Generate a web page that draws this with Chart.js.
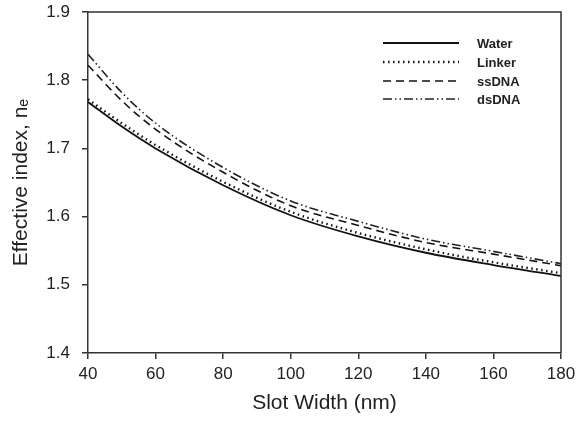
<!DOCTYPE html>
<html>
<head>
<meta charset="utf-8">
<script src="https://cdn.jsdelivr.net/npm/chart.js@4/dist/chart.umd.min.js"></script>
<style>
  html, body { margin: 0; padding: 0; background: #fff; }
  #wrap { width: 582px; height: 424px; }
</style>
</head>
<body>
<div id="wrap"><canvas id="c" width="582" height="424"></canvas></div>
<script>
const slotWidth = [40, 50, 60, 80, 100, 120, 140, 160, 180];
const water  = [1.768, 1.732, 1.700, 1.646, 1.602, 1.571, 1.547, 1.529, 1.513];
const linker = [1.772, 1.737, 1.705, 1.651, 1.607, 1.576, 1.552, 1.533, 1.517];
const ssDNA  = [1.822, 1.770, 1.728, 1.665, 1.616, 1.587, 1.562, 1.545, 1.528];
const dsDNA  = [1.838, 1.782, 1.737, 1.672, 1.623, 1.593, 1.567, 1.549, 1.531];
const seriesNames = ['Water', 'Linker', 'ssDNA', 'dsDNA'];
const xTicks = [40, 60, 80, 100, 120, 140, 160, 180];
const yTicks = [1.4, 1.5, 1.6, 1.7, 1.8, 1.9];

const toPts = (arr) => arr.map((v, i) => ({x: slotWidth[i], y: v}));
const styles = [
  {borderColor: '#111', borderWidth: 1.8, borderDash: []},
  {borderColor: '#111', borderWidth: 2.4, borderDash: [1.5, 3.5]},
  {borderColor: '#111', borderWidth: 1.6, borderDash: [8, 5]},
  {borderColor: '#222', borderWidth: 1.6, borderDash: [9, 3, 1.5, 3, 1.5, 3]}
];
const allSeries = [water, linker, ssDNA, dsDNA];

const frame = {
  id: 'frame',
  afterDraw(chart) {
    const {ctx, chartArea: a} = chart;
    ctx.save();
    ctx.strokeStyle = '#333';
    ctx.lineWidth = 1.5;
    ctx.beginPath();
    ctx.moveTo(a.left, a.top); ctx.lineTo(a.right, a.top); ctx.lineTo(a.right, a.bottom);
    ctx.stroke();
    // legend
    const x0 = 383, x1 = 459, tx = 477, ys = [43, 62, 81, 99];
    chart.data.datasets.forEach((ds, i) => {
      ctx.strokeStyle = ds.borderColor;
      ctx.lineWidth = ds.borderWidth;
      ctx.setLineDash(ds.borderDash);
      ctx.beginPath();
      ctx.moveTo(x0, ys[i]); ctx.lineTo(x1, ys[i]);
      ctx.stroke();
      ctx.setLineDash([]);
      ctx.fillStyle = '#222';
      ctx.font = 'bold 13px "Liberation Sans", Arial, sans-serif';
      ctx.textBaseline = 'middle';
      ctx.textAlign = 'left';
      ctx.fillText(ds.label, tx, ys[i] + 1);
    });
    ctx.restore();
  }
};

new Chart(document.getElementById('c'), {
  type: 'line',
  data: {
    datasets: allSeries.map((s, i) => Object.assign({
      label: seriesNames[i],
      data: toPts(s),
      pointRadius: 0,
      fill: false,
      cubicInterpolationMode: 'monotone'
    }, styles[i]))
  },
  options: {
    responsive: false,
    animation: false,
    devicePixelRatio: 1,
    layout: {padding: {left: 0, right: 21, top: 12, bottom: 0}},
    plugins: {legend: {display: false}, tooltip: {enabled: false}},
    scales: {
      x: {
        type: 'linear', min: 40, max: 180,
        afterBuildTicks: (s) => { s.ticks = xTicks.map(v => ({value: v})); },
        afterFit: (s) => { s.height = 71; s.paddingLeft = 0; s.paddingRight = 0; },
        border: {display: true, color: '#333', width: 1.5},
        grid: {display: true, drawOnChartArea: false, drawTicks: true, tickLength: 6, color: '#333', lineWidth: 1.5},
        ticks: {color: '#222', padding: 5, font: {family: '"Liberation Sans", Arial, sans-serif', size: 17}, maxRotation: 0},
        title: {display: true, text: 'Slot Width (nm)', color: '#222', padding: {top: 8, bottom: 8}, font: {family: '"Liberation Sans", Arial, sans-serif', size: 21}}
      },
      y: {
        type: 'linear', min: 1.4, max: 1.9,
        afterBuildTicks: (s) => { s.ticks = yTicks.map(v => ({value: v})); },
        afterFit: (s) => { s.width = 88; s.paddingTop = 0; s.paddingBottom = 0; },
        border: {display: true, color: '#333', width: 1.5},
        grid: {display: true, drawOnChartArea: false, drawTicks: true, tickLength: 6, color: '#333', lineWidth: 1.5},
        ticks: {color: '#222', padding: 12, font: {family: '"Liberation Sans", Arial, sans-serif', size: 17}, callback: (v) => v.toFixed(1)},
        title: {display: true, text: 'Effective index, nₑ', color: '#222', padding: {top: 9, bottom: 4}, font: {family: '"Liberation Sans", Arial, sans-serif', size: 21}}
      }
    }
  },
  plugins: [frame]
});
</script>
</body>
</html>
